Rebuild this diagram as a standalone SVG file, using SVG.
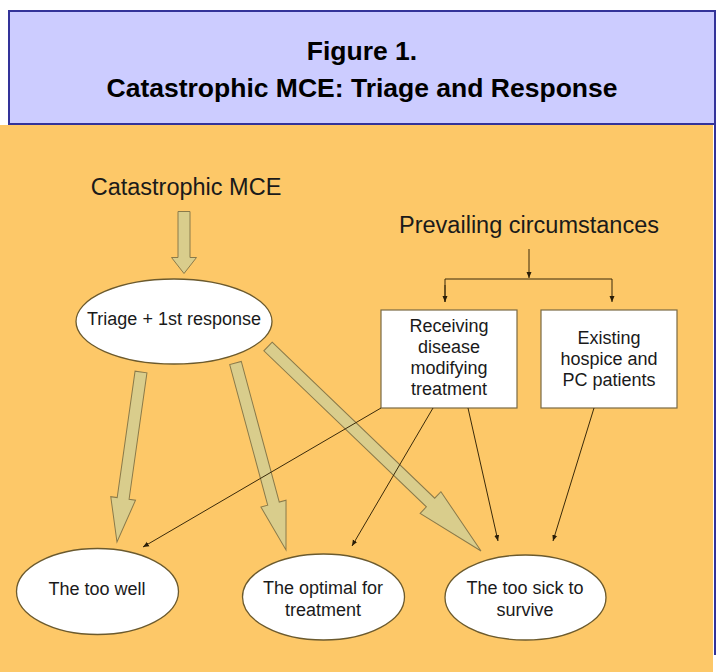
<svg xmlns="http://www.w3.org/2000/svg" width="718" height="672" viewBox="0 0 718 672">
<style>
.t{font-family:"Liberation Sans",Arial,sans-serif;fill:#1a1a1a;text-anchor:middle}
.title{font-family:"Liberation Sans",Arial,sans-serif;font-weight:bold;font-size:26.5px;fill:#000;text-anchor:middle}
.big{font-size:23.5px}
.n{font-size:18px}
.ell{fill:#ffffff;stroke:#6b5a2e;stroke-width:1.3}
.box{fill:#ffffff;stroke:#7a6a44;stroke-width:1.2}
.blk{fill:#d9cd8c;stroke:#8a7a4a;stroke-width:1}
.thin{fill:none;stroke:#3a2a0a;stroke-width:1}
</style>
<defs>
<marker id="ah" markerWidth="7" markerHeight="7" refX="6" refY="3" orient="auto" markerUnits="userSpaceOnUse">
<path d="M0,0.5 L6,3 L0,5.5 z" fill="#2a1e08"/>
</marker>
</defs>
<rect x="0" y="0" width="718" height="672" fill="#ffffff"/>
<rect x="0" y="125" width="713" height="547" fill="#fdc868"/>
<g id="header">
<rect x="9" y="11" width="706" height="113" fill="#ccccff" stroke="#333399" stroke-width="2"/>
<text class="title" x="362" y="60">Figure 1.</text>
<text class="title" x="362" y="97">Catastrophic MCE: Triage and Response</text>
</g>
<line x1="715" y1="11" x2="715" y2="655" stroke="#333399" stroke-width="2"/>
<g id="catastrophic-mce"><text class="t big" x="186" y="195">Catastrophic MCE</text></g>
<g id="prevailing"><text class="t big" x="529" y="233">Prevailing circumstances</text></g>
<g id="block-arrows">
<polygon class="blk" transform="translate(184,211.5) rotate(90)" points="0,-6 46,-6 46,-12.5 62,0 46,12.5 46,6 0,6"/>
<polygon class="blk" transform="translate(141,372) rotate(98.04)" points="0,-6 127.7,-6 127.7,-12.5 171.7,0 127.7,12.5 127.7,6 0,6"/>
<polygon class="blk" transform="translate(235.5,363) rotate(74.89)" points="0,-6 145.7,-6 145.7,-13 193.7,0 145.7,13 145.7,6 0,6"/>
<polygon class="blk" transform="translate(268,346.5) rotate(43.83)" points="0,-6 225.3,-6 225.3,-15 295.3,0 225.3,15 225.3,6 0,6"/>
</g>
<g id="triage"><ellipse class="ell" cx="174" cy="321.5" rx="98" ry="42.5"/><text class="t n" x="174" y="325">Triage + 1st response</text></g>
<g id="receiving"><rect class="box" x="381" y="310" width="136" height="98"/>
<text class="t n" x="449" y="332">Receiving</text><text class="t n" x="449" y="353">disease</text><text class="t n" x="449" y="374">modifying</text><text class="t n" x="449" y="395">treatment</text></g>
<g id="existing"><rect class="box" x="541" y="310" width="136" height="98"/>
<text class="t n" x="609" y="344">Existing</text><text class="t n" x="609" y="365">hospice and</text><text class="t n" x="609" y="386">PC patients</text></g>
<g id="too-well"><ellipse class="ell" cx="97.5" cy="591.5" rx="81" ry="43"/><text class="t n" x="97" y="595">The too well</text></g>
<g id="optimal"><ellipse class="ell" cx="323.5" cy="597" rx="81" ry="43"/><text class="t n" x="323" y="594">The optimal for</text><text class="t n" x="323" y="616">treatment</text></g>
<g id="too-sick"><ellipse class="ell" cx="525.5" cy="597.5" rx="80.5" ry="42.5"/><text class="t n" x="525" y="594">The too sick to</text><text class="t n" x="525" y="616">survive</text></g>
<g id="connectors">
<line class="thin" x1="529" y1="249" x2="529" y2="278" marker-end="url(#ah)"/>
<polyline class="thin" points="445,302 445,279 612,279 612,302" marker-end="url(#ah)"/>
<line class="thin" x1="445" y1="285" x2="445" y2="302" marker-end="url(#ah)"/>
<line class="thin" x1="381" y1="408" x2="143" y2="547" marker-end="url(#ah)"/>
<line class="thin" x1="433" y1="408" x2="352" y2="546" marker-end="url(#ah)"/>
<line class="thin" x1="468" y1="408" x2="498" y2="541" marker-end="url(#ah)"/>
<line class="thin" x1="594" y1="408" x2="553" y2="541" marker-end="url(#ah)"/>
</g>
</svg>
